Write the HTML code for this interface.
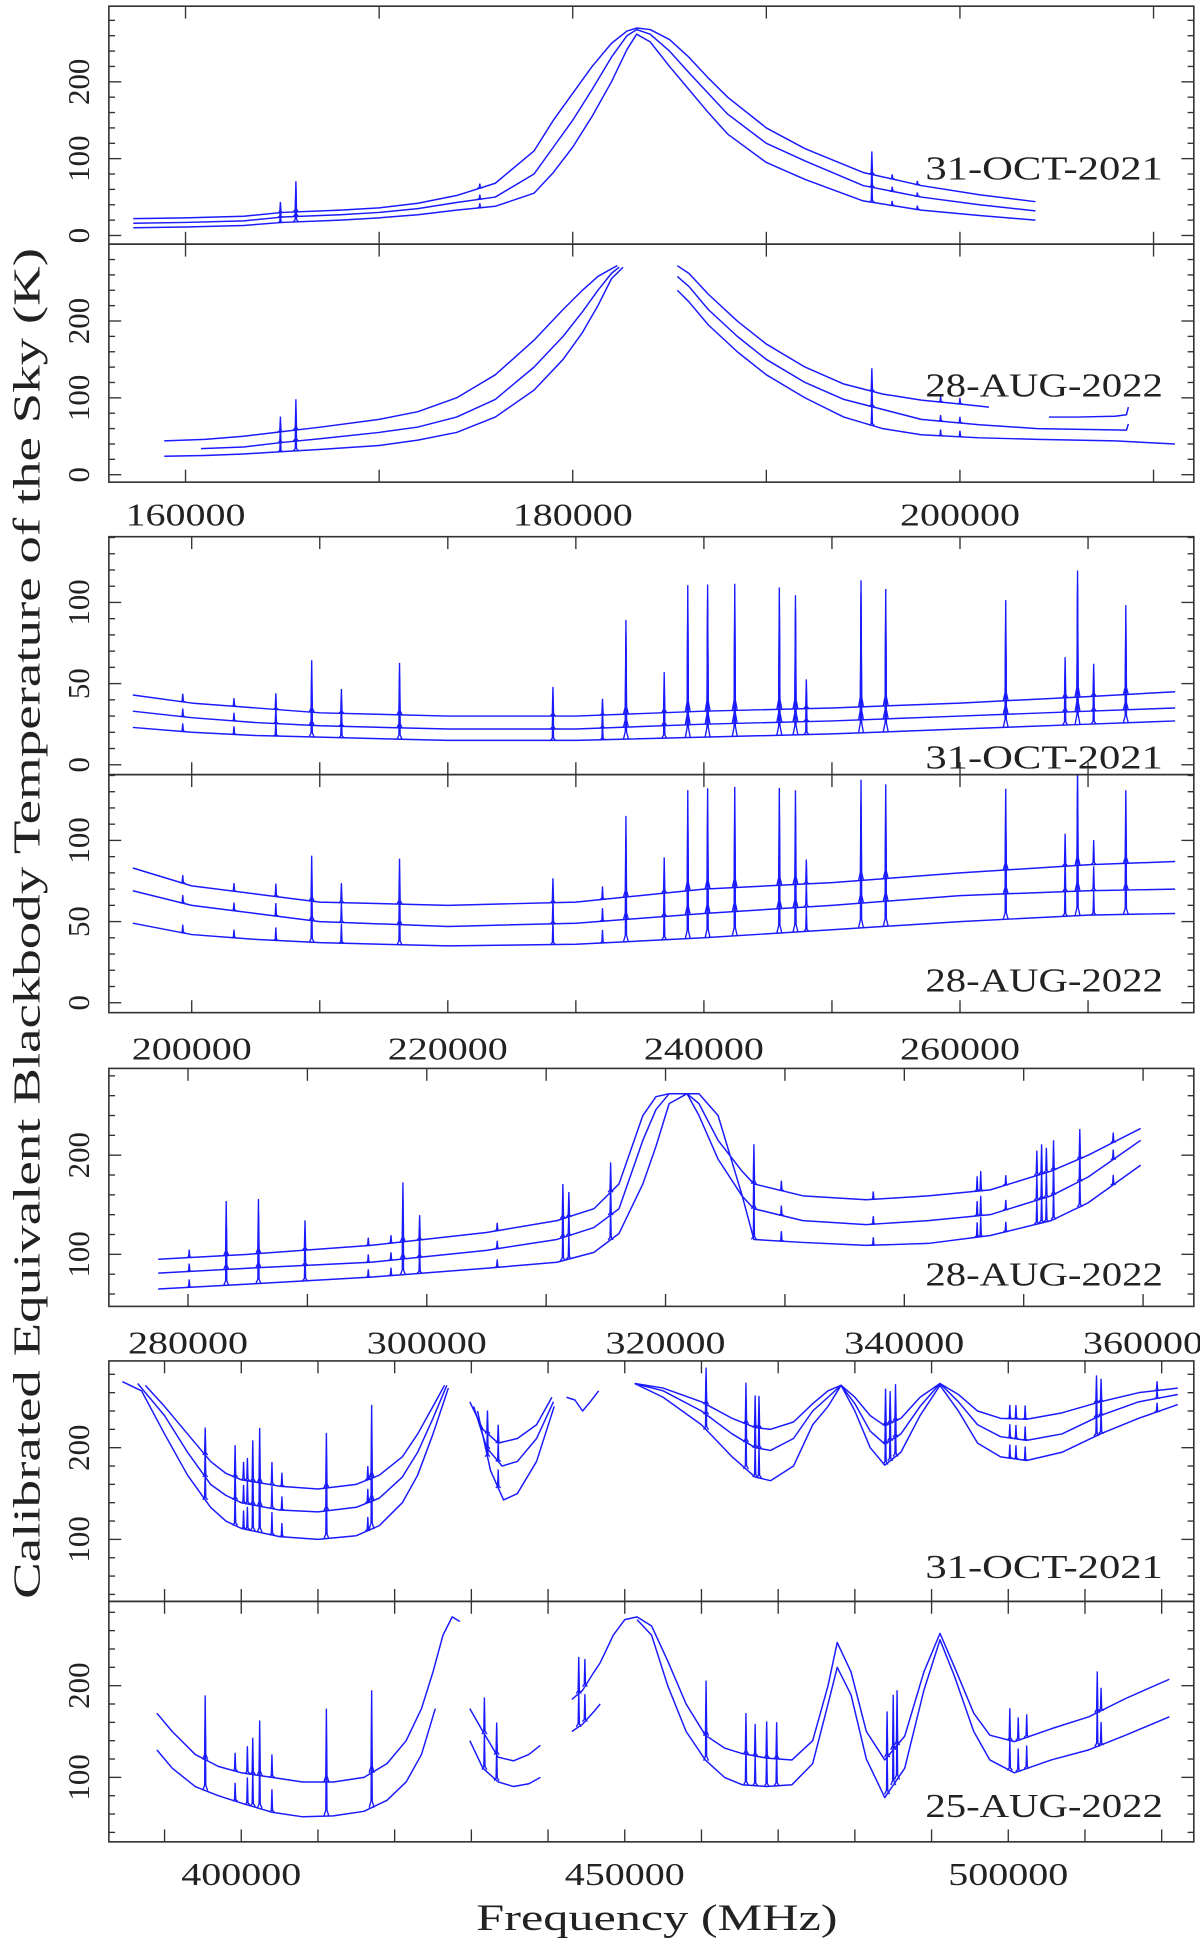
<!DOCTYPE html>
<html><head><meta charset="utf-8"><title>Sky temperature spectra</title>
<style>
html,body{margin:0;padding:0;background:#fff;}
svg{display:block;}
text{font-family:"Liberation Serif","DejaVu Serif",serif;fill:#222;}
</style></head>
<body>
<svg id="chart" xmlns="http://www.w3.org/2000/svg" width="1200" height="1941" viewBox="0 0 970 1566" preserveAspectRatio="none">
<text transform="translate(32,745) rotate(-90)" text-anchor="middle" font-size="31" textLength="1090" lengthAdjust="spacingAndGlyphs">Calibrated Equivalent Blackbody Temperature of the Sky (K)</text>
<text x="531" y="1557" text-anchor="middle" font-size="30" textLength="292" lengthAdjust="spacingAndGlyphs">Frequency (MHz)</text>
</svg>
<script>
// ---------------- data ----------------
const p1Freq = [157300,160000,163000,165000,168000,170000,172000,174000,176000,178000,179000,180000,181000,182000,182800,183300,184000,185000,186000,187000,188000,190000,192000,195000,198000,201000,203900];
const p1Top  = [22,23,25,30,33,36,42,52,68,110,150,185,220,250,266,270,268,255,232,205,180,140,113,82,65,53,44];
const p1Mid  = [16,17,19,24,27,30,35,43,50,80,115,150,190,232,260,268,262,240,212,185,158,120,97,65,50,40,32];
const p1Bot  = [10,11,13,17,20,23,27,33,38,55,82,115,155,200,242,262,252,220,190,160,132,95,73,45,33,26,20];
const p1SpikeFreq = [164900,165700,175200,195450,196500,197800];
const p1SpikeAmp  = [14,40,6,30,6,5];

const p2TopLFreq = [158900,161000,163000,165000,167000,170000,172000,174000,176000,178000,179500,180500,181300,182000,182300];
const p2TopL     = [44,46,50,56,62,72,82,100,130,175,215,240,258,268,272];
const p2MidLFreq = [160800,163000,165000,167000,170000,172000,174000,176000,178000,179500,180500,181300,182000,182400];
const p2MidL     = [34,36,42,47,55,62,75,98,140,180,212,240,262,270];
const p2BotLFreq = [158900,161000,163000,165000,167000,170000,172000,174000,176000,178000,179500,180500,181300,182000,182600];
const p2BotL     = [24,25,27,30,33,38,45,55,75,110,150,185,220,255,270];
const p2TopRFreq = [185400,186000,187000,188500,190000,192000,194000,196000,198000,200000,201500];
const p2TopR     = [272,262,235,200,170,140,118,105,97,92,88];
const p2Top2Freq = [204600,206000,208000,208600,208700];
const p2Top2     = [75,75,76,78,88];
const p2MidRFreq = [185400,186000,187000,188500,190000,192000,194000,196000,198000,201000,204000,208600,208700];
const p2MidR     = [258,245,215,180,150,120,98,85,72,65,60,58,66];
const p2BotRFreq = [185400,186000,187000,188500,190000,192000,194000,196000,198000,201000,204000,208000,211100];
const p2BotR     = [240,225,195,160,130,100,75,60,52,48,46,44,40];
const p2SpikeFreq = [164900,165700,195450,199000,200000];
const p2SpikeAmp  = [20,40,30,8,8];

const p3Freq = [195400,200000,205000,210000,220000,230000,240000,250000,260000,270000,276800];
const p3Top  = [43,38,35,32,30,30,33,35,38,42,45];
const p3Mid  = [33,29,26,24,22,22,25,27,30,33,35];
const p3Bot  = [23,20,18,17,15,15,17,19,22,25,27];
const p3SpikeFreq = [199300,203300,206570,209370,211690,216230,228210,232080,233910,236900,238740,240290,242410,245890,247150,248000,252270,254200,263570,268210,269180,270440,272950];
const p3SpikeAmp  = [5,5,10,32,15,32,18,10,58,25,78,78,78,75,70,18,78,72,62,25,78,20,55];

const p4Freq = [195400,200000,205000,210000,220000,230000,240000,250000,260000,270000,276800];
const p4Top  = [83,72,67,62,60,62,70,74,80,85,87];
const p4Mid  = [69,60,55,50,47,49,55,60,66,69,70];
const p4Bot  = [49,42,39,37,35,36,40,45,50,54,55];
const p4SpikeFreq = p3SpikeFreq;
const p4SpikeAmp  = [5,5,8,28,12,28,15,8,50,22,62,62,62,60,58,15,62,58,50,20,62,15,45];

const p5Freq = [277500,285000,295300,305000,310900,314000,316100,318100,319200,320300,321800,322800,324400,326400,327400,331500,336800,342000,347200,352300,355400,359800];
const p5Top  = [95,100,109,122,134,146,171,240,259,262,262,252,215,184,171,159,155,159,165,184,200,227];
const p5Mid  = [81,86,92,104,115,127,146,215,246,262,262,240,196,159,146,134,130,134,140,159,178,215];
const p5Bot  = [65,70,77,86,92,102,121,171,209,252,262,262,240,160,115,112,109,111,119,134,152,190];
const p5SpikeFreq = [280100,283200,285900,289800,295100,297000,298000,299400,305900,311400,311900,315400,327400,329700,337400,346100,346400,348500,351100,351500,351900,352500,354700,357500];
const p5SpikeAmp  = [8,55,55,30,8,8,60,25,8,35,25,30,40,10,8,15,20,10,25,30,25,30,30,10];

const p6TopAFreq = [387500,390000,393000,396000,398000,400000,405000,410000,415000,418000,421000,423000,425000,426500];
const p6TopA     = [268,245,215,185,172,165,158,155,160,170,190,215,245,268];
const p6MidAFreq = [386500,390000,393000,396000,398000,400000,405000,410000,415000,418000,421000,423000,425000,426800];
const p6MidA     = [270,235,195,160,148,140,132,130,135,145,168,195,232,268];
const p6BotAFreq = [384500,387000,390000,393000,396000,398000,400000,405000,410000,415000,418000,421000,423000,425000,427000];
const p6BotA     = [272,262,215,170,135,120,112,103,100,104,115,140,170,215,265];
const p6TopBFreq = [429800,431500,433500,436000,438500,440500];
const p6TopB     = [250,220,205,210,225,255];
const p6MidBFreq = [430300,432000,434000,436000,438500,440700];
const p6MidB     = [245,200,180,185,210,250];
const p6BotBFreq = [430800,432500,434200,436000,438500,440800];
const p6BotB     = [240,175,143,150,185,245];
const p6CFreq = [442400,443500,444500,445500,446600];
const p6C     = [255,252,240,250,262];
const p6DFreq = [451300,455000,460000,464000,467000,469000,472000,474500,476500,478200,480000,482000,483900,486000,488500,491100,493500,496000,499000,502400,507000,512000,517000,522100];
const p6TopD  = [270,265,250,232,222,220,228,248,262,268,255,235,224,232,255,270,258,240,232,231,238,250,260,265];
const p6MidD  = [270,262,240,215,200,197,210,240,255,268,248,218,204,215,245,270,250,225,212,208,215,235,250,258];
const p6BotD  = [270,255,225,190,168,164,180,225,245,268,240,200,181,195,235,268,240,205,190,186,195,215,232,247];
const p6SpikeFreq = [395300,399200,400300,400800,401500,402400,404000,405300,411100,416500,417000,432100,433500,460600,465800,467000,467500,484000,484600,485300,500200,501000,502200,511500,512100,519400];
const p6SpikeAmp  = [30,35,20,25,45,60,25,15,60,15,80,25,20,40,45,35,35,40,35,40,15,15,15,30,25,10];

const p7TopAFreq = [389000,391000,394000,397000,400000,404000,408000,412000,416000,419000,421500,423500,425000,426300,427500,428500];
const p7TopA     = [170,150,125,112,105,100,95,95,100,115,140,175,215,255,275,270];
const p7BotAFreq = [389000,391000,394000,397000,400000,404000,408000,412000,416000,419000,421500,423500,425300];
const p7BotA     = [130,110,90,80,72,62,57,58,63,75,95,125,175];
const p7BFreq    = [429800,431500,433500,435500,437500,439000];
const p7TopB     = [175,150,122,118,125,135];
const p7BotB     = [140,110,95,90,93,100];
const p7CFreq    = [443100,444500,446000,446800];
const p7TopC     = [185,195,215,225];
const p7BotC     = [150,158,172,180];
const p7TopDFreq = [446800,448500,450000,451600,453500,455600,458000,460500,463000,465300,468500,471800,474500,476500,477700,479500,481500,483900,486500,489000,491100,493000,495500,497600,500800,505600,510500,515300,521000];
const p7TopD     = [225,255,272,275,265,227,180,146,132,126,121,119,140,200,247,215,150,119,145,215,257,220,170,146,139,153,166,186,207];
const p7BotDFreq = [451600,453500,455600,458000,460500,463000,465300,468500,471800,474500,476500,477700,479500,481500,483900,486500,489000,491100,493000,495500,497600,500800,505600,510500,515300,521000];
const p7BotD     = [272,255,200,150,119,100,92,90,92,115,180,220,190,120,78,110,195,250,210,150,119,105,119,130,146,166];
const p7SpikeFreq = [395300,399200,400800,401500,402400,404000,411100,417000,431700,433300,444000,444800,460600,465800,467000,468500,469800,484200,485000,485500,500200,501300,502400,511600,512100];
const p7SpikeAmp  = [70,20,30,40,60,25,80,90,40,35,40,30,60,45,35,40,40,50,60,60,35,25,25,45,25];

const dateLabels = ["31-OCT-2021","28-AUG-2022","31-OCT-2021","28-AUG-2022","28-AUG-2022","31-OCT-2021","25-AUG-2022"];
const xTickLabelsA = [160000,180000,200000];
const xTickLabelsB = [200000,220000,240000,260000];
const xTickLabelsC = [280000,300000,320000,340000,360000];
const xTickLabelsD = [400000,450000,500000];

// ---------------- layout ----------------
const svg = document.getElementById('chart');
const NS = 'http://www.w3.org/2000/svg';
const X0 = 88, X1 = 965;
const panels = [
 {y0:5,   y1:197,  fmin:156040, fmax:212080, vmin:-11.3, vmax:298.4, yMajor:[0,100,200], yMinor:20, xMajor:10000, labelY:145},
 {y0:197, y1:389,  fmin:156040, fmax:212080, vmin:-9.7,  vmax:300,   yMajor:[0,100,200], yMinor:20, xMajor:10000, labelY:320},
 {y0:433, y1:625,  fmin:193530, fmax:278260, vmin:-6.1,  vmax:140.5, yMajor:[0,50,100],  yMinor:10, xMajor:10000, labelY:620},
 {y0:625, y1:817,  fmin:193530, fmax:278260, vmin:-6.1,  vmax:140.5, yMajor:[0,50,100],  yMinor:10, xMajor:10000, labelY:800},
 {y0:862, y1:1054, fmin:273370, fmax:364250, vmin:47.5,  vmax:287.5, yMajor:[100,200],   yMinor:20, xMajor:10000, labelY:1037},
 {y0:1098,y1:1292, fmin:382740, fmax:524190, vmin:32.4,  vmax:294.6, yMajor:[100,200],   yMinor:20, xMajor:10000, labelY:1273},
 {y0:1292,y1:1486, fmin:382740, fmax:524190, vmin:29.7,  vmax:291.9, yMajor:[100,200],   yMinor:20, xMajor:10000, labelY:1466}
];
function xs(p,f){return X0+(f-p.fmin)/(p.fmax-p.fmin)*(X1-X0);}
function ys(p,v){return p.y1-(v-p.vmin)/(p.vmax-p.vmin)*(p.y1-p.y0);}
function el(tag,attrs,parent){const e=document.createElementNS(NS,tag);for(const k in attrs)e.setAttribute(k,attrs[k]);(parent||svg).appendChild(e);return e;}
function interp(fs,vs,f){for(let i=0;i<fs.length-1;i++){if(f>=fs[i]&&f<=fs[i+1]){const t=(f-fs[i])/(fs[i+1]-fs[i]);return vs[i]+t*(vs[i+1]-vs[i]);}}return null;}

const defs = el('defs',{});
panels.forEach((p,i)=>{
  const cp = el('clipPath',{id:'clip'+i},defs);
  el('rect',{x:X0,y:p.y0,width:X1-X0,height:p.y1-p.y0},cp);
});

function drawSeries(pi, fs, vs, spikeF, spikeA, name){
  const p = panels[pi];
  const g = el('g',{'clip-path':'url(#clip'+pi+')'});
  
  
  const d = fs.map((f,k)=>(k?'L':'M')+xs(p,f).toFixed(2)+','+ys(p,vs[k]).toFixed(2)).join(' ');
  const line = el('path',{d:d,fill:'none',stroke:'#1a1aff','stroke-width':1.2,'stroke-linejoin':'round'},g);
  
  
  spikeF.forEach((f,k)=>{
    const base = interp(fs,vs,f);
    if(base===null) return;
    const x = xs(p,f), yb = ys(p,base), yt = ys(p,base+spikeA[k]), ym = ys(p,base+spikeA[k]*0.08);
    const s = el('path',{d:'M'+(x-2)+','+yb+' L'+(x-0.5)+','+ym+' L'+x+','+yt+' L'+(x+0.5)+','+ym+' L'+(x+2)+','+yb,fill:'none',stroke:'#1a1aff','stroke-width':1.1},g);
    
    
  });
}

drawSeries(0,p1Freq,p1Top,p1SpikeFreq,p1SpikeAmp,'oct2021-a-upper');
drawSeries(0,p1Freq,p1Mid,p1SpikeFreq,p1SpikeAmp,'oct2021-a-middle');
drawSeries(0,p1Freq,p1Bot,p1SpikeFreq,p1SpikeAmp,'oct2021-a-lower');
drawSeries(1,p2TopLFreq,p2TopL,p2SpikeFreq,p2SpikeAmp,'aug2022-a-upper-left');
drawSeries(1,p2MidLFreq,p2MidL,p2SpikeFreq,p2SpikeAmp,'aug2022-a-middle-left');
drawSeries(1,p2BotLFreq,p2BotL,p2SpikeFreq,p2SpikeAmp,'aug2022-a-lower-left');
drawSeries(1,p2TopRFreq,p2TopR,p2SpikeFreq,p2SpikeAmp,'aug2022-a-upper-right');
drawSeries(1,p2Top2Freq,p2Top2,[],[],'aug2022-a-upper-far');
drawSeries(1,p2MidRFreq,p2MidR,p2SpikeFreq,p2SpikeAmp,'aug2022-a-middle-right');
drawSeries(1,p2BotRFreq,p2BotR,p2SpikeFreq,p2SpikeAmp,'aug2022-a-lower-right');
drawSeries(2,p3Freq,p3Top,p3SpikeFreq,p3SpikeAmp,'oct2021-b-upper');
drawSeries(2,p3Freq,p3Mid,p3SpikeFreq,p3SpikeAmp,'oct2021-b-middle');
drawSeries(2,p3Freq,p3Bot,p3SpikeFreq,p3SpikeAmp,'oct2021-b-lower');
drawSeries(3,p4Freq,p4Top,p4SpikeFreq,p4SpikeAmp,'aug2022-b-upper');
drawSeries(3,p4Freq,p4Mid,p4SpikeFreq,p4SpikeAmp,'aug2022-b-middle');
drawSeries(3,p4Freq,p4Bot,p4SpikeFreq,p4SpikeAmp,'aug2022-b-lower');
drawSeries(4,p5Freq,p5Top,p5SpikeFreq,p5SpikeAmp,'aug2022-c-upper');
drawSeries(4,p5Freq,p5Mid,p5SpikeFreq,p5SpikeAmp,'aug2022-c-middle');
drawSeries(4,p5Freq,p5Bot,p5SpikeFreq,p5SpikeAmp,'aug2022-c-lower');
drawSeries(5,p6TopAFreq,p6TopA,p6SpikeFreq,p6SpikeAmp,'oct2021-d-upper-a');
drawSeries(5,p6MidAFreq,p6MidA,p6SpikeFreq,p6SpikeAmp,'oct2021-d-middle-a');
drawSeries(5,p6BotAFreq,p6BotA,p6SpikeFreq,p6SpikeAmp,'oct2021-d-lower-a');
drawSeries(5,p6TopBFreq,p6TopB,p6SpikeFreq,p6SpikeAmp,'oct2021-d-upper-b');
drawSeries(5,p6MidBFreq,p6MidB,p6SpikeFreq,p6SpikeAmp,'oct2021-d-middle-b');
drawSeries(5,p6BotBFreq,p6BotB,p6SpikeFreq,p6SpikeAmp,'oct2021-d-lower-b');
drawSeries(5,p6CFreq,p6C,[],[],'oct2021-d-c');
drawSeries(5,p6DFreq,p6TopD,p6SpikeFreq,p6SpikeAmp,'oct2021-d-upper-d');
drawSeries(5,p6DFreq,p6MidD,p6SpikeFreq,p6SpikeAmp,'oct2021-d-middle-d');
drawSeries(5,p6DFreq,p6BotD,p6SpikeFreq,p6SpikeAmp,'oct2021-d-lower-d');
drawSeries(6,p7TopAFreq,p7TopA,p7SpikeFreq,p7SpikeAmp,'aug2022-d-upper-a');
drawSeries(6,p7BotAFreq,p7BotA,p7SpikeFreq,p7SpikeAmp,'aug2022-d-lower-a');
drawSeries(6,p7BFreq,p7TopB,p7SpikeFreq,p7SpikeAmp,'aug2022-d-upper-b');
drawSeries(6,p7BFreq,p7BotB,p7SpikeFreq,p7SpikeAmp,'aug2022-d-lower-b');
drawSeries(6,p7CFreq,p7TopC,p7SpikeFreq,p7SpikeAmp,'aug2022-d-upper-c');
drawSeries(6,p7CFreq,p7BotC,p7SpikeFreq,p7SpikeAmp,'aug2022-d-lower-c');
drawSeries(6,p7TopDFreq,p7TopD,p7SpikeFreq,p7SpikeAmp,'aug2022-d-upper-d');
drawSeries(6,p7BotDFreq,p7BotD,p7SpikeFreq,p7SpikeAmp,'aug2022-d-lower-d');

const AX = '#333';
panels.forEach((p,i)=>{
  const frame = el('rect',{x:X0,y:p.y0,width:X1-X0,height:p.y1-p.y0,fill:'none',stroke:AX,'stroke-width':1.3});
  
  
  const step = p.yMajor[1]-p.yMajor[0];
  for(let v=Math.ceil(p.vmin/p.yMinor)*p.yMinor; v<=p.vmax; v+=p.yMinor){
    const isMaj = (v % step)===0;
    const L = isMaj?10:5, y=ys(p,v);
    el('line',{x1:X0,x2:X0+L,y1:y,y2:y,stroke:AX,'stroke-width':1.1});
    el('line',{x1:X1,x2:X1-L,y1:y,y2:y,stroke:AX,'stroke-width':1.1});
  }
  p.yMajor.forEach(v=>{
    const y=ys(p,v);
    const t=el('text',{transform:'translate(72,'+y+') rotate(-90)','text-anchor':'middle','font-size':25});
    t.textContent=String(v);
    
    
  });
  for(let f=Math.ceil(p.fmin/p.xMajor)*p.xMajor; f<=p.fmax; f+=p.xMajor){
    const x=xs(p,f);
    el('line',{x1:x,x2:x,y1:p.y1,y2:p.y1-10,stroke:AX,'stroke-width':1.1});
    el('line',{x1:x,x2:x,y1:p.y0,y2:p.y0+10,stroke:AX,'stroke-width':1.1});
  }
  const dl=el('text',{x:748,y:p.labelY,'font-size':27,textLength:192,lengthAdjust:'spacingAndGlyphs'});
  dl.textContent=dateLabels[i];
  
  
});
function xLabels(pi,vals,y){
  const p=panels[pi];
  vals.forEach(f=>{
    const t=el('text',{x:xs(p,f),y:y,'text-anchor':'middle','font-size':26,textLength:97,lengthAdjust:'spacingAndGlyphs'});
    t.textContent=String(f);
    
    
  });
}
xLabels(1,xTickLabelsA,424);
xLabels(3,xTickLabelsB,855);
xLabels(4,xTickLabelsC,1092);
xLabels(6,xTickLabelsD,1521);
</script>
</body></html>
